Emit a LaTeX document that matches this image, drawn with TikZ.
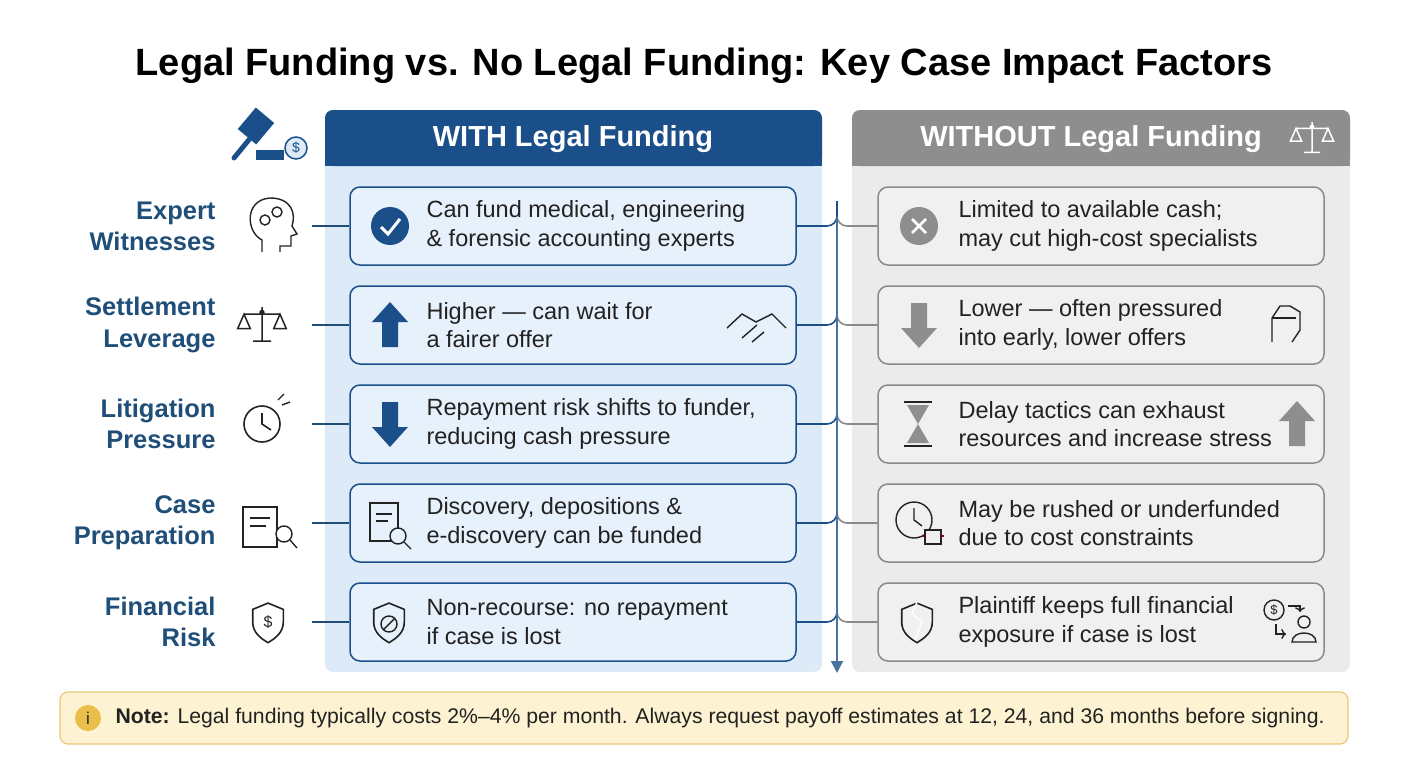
\documentclass[tikz,border=0pt]{standalone}
\usepackage{fontspec}
\setmainfont{Liberation Sans}
\usetikzlibrary{arrows.meta,positioning}
\definecolor{navy}{HTML}{1B4F8A}
\definecolor{lblue}{HTML}{1F4E79}
\definecolor{panelblue}{HTML}{DDEBF8}
\definecolor{boxblue}{HTML}{E7F1FB}
\definecolor{hdgray}{HTML}{8E8E8E}
\definecolor{panelgray}{HTML}{EBEBEB}
\definecolor{boxgray}{HTML}{F0F0F0}
\definecolor{edgegray}{HTML}{8A8A8A}
\definecolor{ink}{HTML}{222222}
\definecolor{notefill}{HTML}{FDF3D2}
\definecolor{noteedge}{HTML}{E8C97A}
\definecolor{noteicon}{HTML}{E9BE4A}
\newcommand{\fs}[1]{\fontsize{#1}{1.22\dimexpr#1pt\relax}\selectfont}
\tikzset{
  upar/.pic={\fill (0,-23) -- (18,-3) -- (8,-3) -- (8,22) -- (-8,22) -- (-8,-3) -- (-18,-3) -- cycle;},
  downar/.pic={\fill (0,23) -- (18,3) -- (8,3) -- (8,-22) -- (-8,-22) -- (-8,3) -- (-18,3) -- cycle;},
  shieldpic/.pic={\draw[line width=1.6pt] (0,-21) -- (17,-14) -- (17,0) .. controls (17,12) and (8,18) .. (0,23) .. controls (-8,18) and (-17,12) .. (-17,0) -- (-17,-14) -- cycle;},
  clockpic/.pic={\draw[line width=1.6pt] (0,0) circle (18); \draw[line width=1.6pt] (0,-11) -- (0,0) -- (9,6);},
  scalespic/.pic={\draw[line width=1.5pt] (0,-20) -- (0,18) (-10,18) -- (10,18) (-20,-12) -- (20,-12)
      (-20,-12) -- (-27,4) -- (-13,4) -- cycle (20,-12) -- (13,4) -- (27,4) -- cycle;
      \fill (0,-14) circle (3);},
}
\begin{document}
\begin{tikzpicture}[x=1pt,y=-1pt,
    rowlabel/.style={font=\fs{25.5}\bfseries, text=lblue, align=right, anchor=east},
    panelhead/.style={font=\fs{29}\bfseries, text=white},
    withbox/.style={draw=navy, line width=1.5pt, fill=boxblue, rounded corners=10pt, minimum width=446pt, minimum height=78pt},
    nobox/.style={draw=edgegray, line width=1.5pt, fill=boxgray, rounded corners=10pt, minimum width=446pt, minimum height=78pt},
    boxtext/.style={font=\fs{23.5}, text=ink, align=left, anchor=west},
    withlink/.style={navy, line width=1.6pt, rounded corners=10pt},
    nolink/.style={edgegray, line width=1.6pt, rounded corners=10pt},
    labellink/.style={lblue, line width=1.4pt},
]
\useasboundingbox (0,0) rectangle (1408,768);

% === Title ===
\node[font=\fs{38}\bfseries, text=black] (title) at (704,66) {Legal Funding vs. No Legal Funding: Key Case Impact Factors};

% === Panels ===
\fill[panelblue, rounded corners=8pt] (325,110) rectangle (822,672);
\fill[navy, rounded corners=8pt] (325,110) rectangle (822,166);
\fill[navy] (325,140) rectangle (822,166);
\node[panelhead] (withhead) at (573,139) {WITH Legal Funding};

\fill[panelgray, rounded corners=8pt] (852,110) rectangle (1350,672);
\fill[hdgray, rounded corners=8pt] (852,110) rectangle (1350,166);
\fill[hdgray] (852,140) rectangle (1350,166);
\node[panelhead] (nohead) at (1091,139) {WITHOUT Legal Funding};
\pic[white, scale=0.8] at (1312,138) {scalespic};

% Gavel icon
\begin{scope}[navy]
  \fill[rotate around={-40:(256,126)}] (244,112) rectangle (268,140);
  \draw[line width=5pt, line cap=round] (252,136) -- (234,158);
  \fill (256,150) rectangle (284,160);
  \draw[line width=1.5pt, fill=panelblue] (296,148) circle (11);
  \node[font=\fs{14}] (coin) at (296,148) {\$};
\end{scope}

% === Row labels ===
\node[rowlabel] (lexp) at (219,226) {Expert\\Witnesses};
\node[rowlabel] (lset) at (219,325) {Settlement\\Leverage};
\node[rowlabel] (llit) at (219,424) {Litigation\\Pressure};
\node[rowlabel] (lcas) at (219,523) {Case\\Preparation};
\node[rowlabel] (lfin) at (219,622) {Financial\\Risk};

% Row label icons
\begin{scope}[ink, line width=1.4pt]
  \draw (262,252) -- (262,240) .. controls (246,232) and (244,200) .. (270,198) .. controls (292,198) and (296,214) .. (292,226) -- (297,234) -- (291,236) -- (291,246) -- (280,246) -- (280,252);
  \draw (265,220) circle (5) (277,212) circle (5);
  \pic[scale=0.9] at (262,325) {scalespic};
  \pic at (262,424) {clockpic};
  \draw (278,400) -- (284,394) (282,405) -- (290,402);
  \draw (243,507) rectangle (277,547);
  \draw (250,518) -- (270,518) (250,526) -- (266,526);
  \draw[fill=white] (284,534) circle (8); \draw (290,540) -- (297,548);
  \pic[scale=0.9] at (268,622) {shieldpic};
  \node[font=\fs{16}] (dollar) at (268,622) {\$};
\end{scope}

% === WITH boxes ===
\node[withbox] (wexp) at (573,226) {};
\node[withbox] (wset) at (573,325) {};
\node[withbox] (wlit) at (573,424) {};
\node[withbox] (wcas) at (573,523) {};
\node[withbox] (wfin) at (573,622) {};
\node[boxtext] (texp) at (423,226) {Can fund medical, engineering\\\& forensic accounting experts};
\node[boxtext] (tset) at (423,325) {Higher --- can wait for\\a fairer offer};
\node[boxtext] (tlit) at (423,424) {Repayment risk shifts to funder,\\reducing cash pressure};
\node[boxtext] (tcas) at (423,523) {Discovery, depositions \&\\e-discovery can be funded};
\node[boxtext] (tfin) at (423,622) {Non-recourse: no repayment\\if case is lost};

% WITH icons
\fill[navy] (390,226) circle (19);
\draw[white, line width=3pt] (381,227) -- (388,234) -- (400,219);
\pic[navy] at (390,325) {upar};
\pic[navy] at (390,424) {downar};
\begin{scope}[ink, line width=1.4pt]
  \draw (370,503) rectangle (398,541);
  \draw (376,514) -- (392,514) (376,521) -- (388,521);
  \draw[fill=boxblue] (398,536) circle (8); \draw (404,542) -- (411,549);
  \pic[scale=0.9] at (389,622) {shieldpic};
  \draw (389,624) circle (8) (383,630) -- (395,618);
  \draw (727,328) -- (742,314) -- (756,322) -- (772,314) -- (786,328) (742,338) -- (757,325) (752,342) -- (764,332);
\end{scope}

% === WITHOUT boxes ===
\node[nobox] (nexp) at (1101,226) {};
\node[nobox] (nset) at (1101,325) {};
\node[nobox] (nlit) at (1101,424) {};
\node[nobox] (ncas) at (1101,523) {};
\node[nobox] (nfin) at (1101,622) {};
\node[boxtext] (uexp) at (955,226) {Limited to available cash;\\may cut high-cost specialists};
\node[boxtext] (uset) at (955,325) {Lower --- often pressured\\into early, lower offers};
\node[boxtext] (ulit) at (955,424) {Delay tactics can exhaust\\resources and increase stress};
\node[boxtext] (ucas) at (955,523) {May be rushed or underfunded\\due to cost constraints};
\node[boxtext] (ufin) at (955,622) {Plaintiff keeps full financial\\exposure if case is lost};

% WITHOUT icons
\fill[hdgray] (919,226) circle (19);
\draw[white, line width=2.5pt] (912,219) -- (926,233) (926,219) -- (912,233);
\pic[hdgray] at (919,325) {downar};
\pic[hdgray] at (1297,424) {upar};
\begin{scope}[ink, line width=1.4pt]
  \draw (904,402) -- (932,402) (904,446) -- (932,446);
  \fill[hdgray] (907,405) -- (929,405) -- (918,424) -- cycle (918,424) -- (907,443) -- (929,443) -- cycle;
  \draw (914,520) circle (18);
  \draw (914,508) -- (914,520) -- (922,526);
  \draw[red!70!black] (922,536) -- (944,536);
  \draw[fill=boxgray] (925,530) rectangle (941,544);
  \pic[scale=0.9,fill=hdgray] at (917,622) {shieldpic};
  \draw[white] (917,602) -- (912,614) -- (922,622) -- (915,640);
  \draw (1272,342) -- (1272,318) -- (1280,306) -- (1290,306) -- (1300,312) -- (1300,330) -- (1292,342);
  \draw (1272,318) -- (1296,318);
  \draw (1274,610) circle (10);
  \node[font=\fs{13}] (ndollar) at (1274,610) {\$};
  \draw (1304,622) circle (6) (1292,642) .. controls (1292,630) and (1316,630) .. (1316,642) -- cycle;
  \draw[->] (1288,606) -- (1300,606) -- (1300,612);
  \draw[->] (1276,624) -- (1276,634) -- (1286,634);
\end{scope}

% === Connectors ===
\coordinate (spinetop) at (837,217);
\coordinate (spineend) at (837,673);
\foreach \r in {exp,set,lit,cas,fin} {
  \draw[labellink] ([xshift=93pt]l\r.east) -- (w\r.west);
  \draw[nolink] (n\r.west) -| ([yshift=25pt]spinetop |- n\r.west);
  \draw[withlink] (w\r.east) -| ([yshift=25pt]spinetop |- w\r.east);
}
\draw[navy!80, line width=2pt, -{Triangle[length=12pt,width=12pt]}] (spinetop) -- (spineend);

% === Note ===
\node[draw=noteedge, line width=1.2pt, fill=notefill, rounded corners=8pt, minimum width=1288pt, minimum height=52pt] (note) at (704,718) {};
\fill[noteicon] (88,718) circle (13);
\node[font=\fs{17}, text=ink] (noteicon) at (88,718) {i};
\node[font=\fs{21.2}, text=ink, anchor=west] (notetext) at (112,718) {\textbf{Note:} Legal funding typically costs 2\%--4\% per month. Always request payoff estimates at 12, 24, and 36 months before signing.};
\end{tikzpicture}
\end{document}
